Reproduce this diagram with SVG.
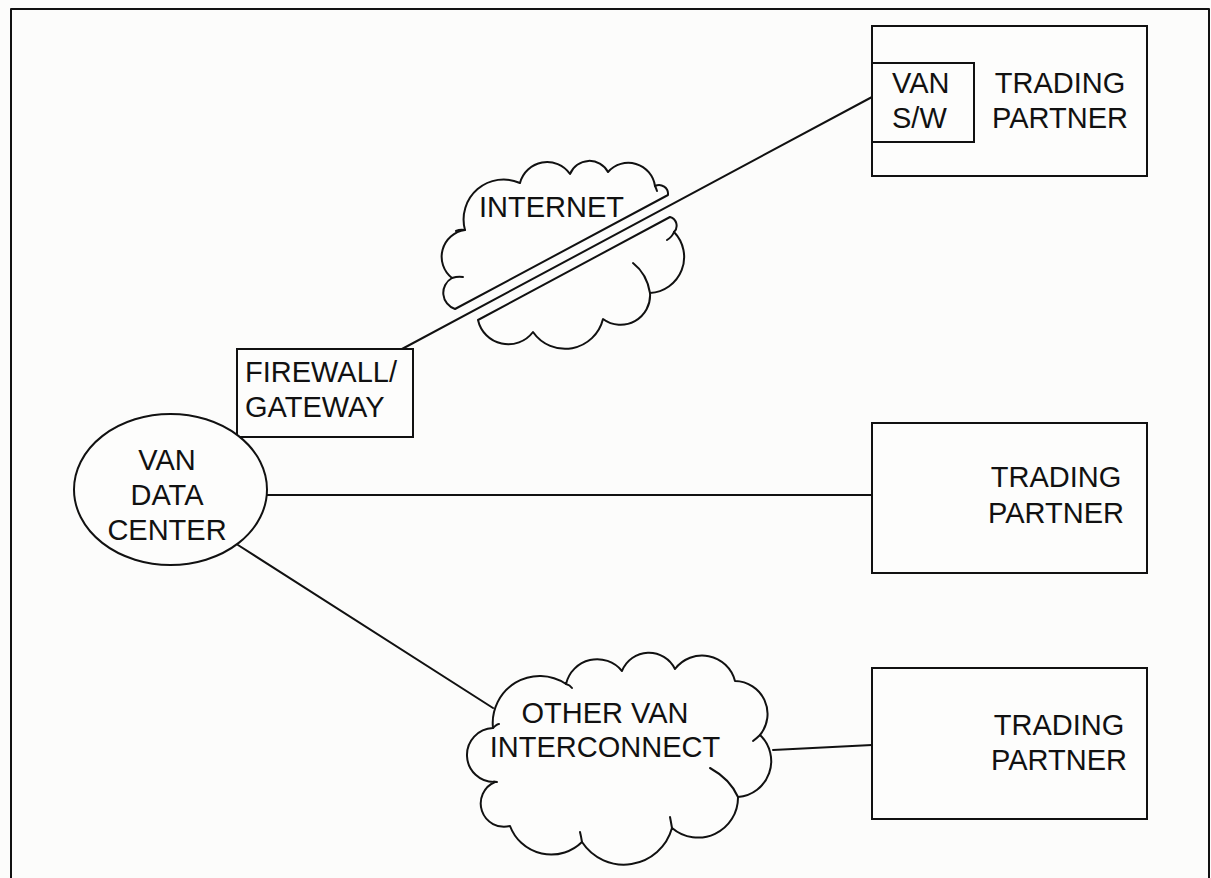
<svg xmlns="http://www.w3.org/2000/svg" width="1211" height="878" viewBox="0 0 1211 878">
  <style>
    .ln { fill: none; stroke: #111; stroke-width: 2; stroke-linecap: round; stroke-linejoin: round; }
    .box { fill: #fdfdfc; stroke: #111; stroke-width: 2; }
    .cloud { fill: #fdfdfc; stroke: #111; stroke-width: 2; stroke-linejoin: round; }
    .hook { fill: none; stroke: #111; stroke-width: 2; stroke-linecap: round; }
    .t { font-family: "Liberation Sans", Arial, Helvetica, sans-serif; font-size: 29px; fill: #111; }
    .c { text-anchor: middle; }
  </style>

  <!-- page background and frame -->
  <rect x="0" y="0" width="1211" height="878" fill="#fcfcfb"/>
  <path class="ln" d="M11,880 L11,9 L1209,9 L1209,880"/>

  <!-- connectors -->
  <g id="connectors">
    <line class="ln" x1="402" y1="349" x2="872" y2="97"/>
    <line class="ln" x1="267" y1="495" x2="872" y2="495"/>
    <line class="ln" x1="238" y1="545" x2="493" y2="708"/>
    <line class="ln" x1="773" y1="750" x2="872" y2="745"/>
  </g>

  <!-- internet cloud, split by the tunnel -->
  <g id="internet">
    <path class="cloud" d="M455,309 A17,17 0 0 1 452,278 A27,27 0 0 1 465,230 A40,40 0 0 1 520,183 A28,28 0 0 1 570,174 A21,21 0 0 1 608,172 A27,27 0 0 1 655,186 A9,9 0 0 1 668,195 Z"/>
    <path class="cloud" d="M670,217 A9,9 0 0 1 674,232 A36,36 0 0 1 650,293 A29.5,29.5 0 0 1 603,319 A39,39 0 0 1 533,332 A31,31 0 0 1 478,320 Z"/>
    <path class="hook" d="M452,278 Q458,276 463,277"/>
    <path class="hook" d="M465,230 Q460,229 456,231"/>
    <path class="hook" d="M674,232 Q672,237 667,240"/>
    <path class="hook" d="M633,263 Q647,274 650,293"/>
    <path class="hook" d="M655,186 Q656,188 657,191"/>
    <text class="t" x="479" y="217">INTERNET</text>
  </g>

  <!-- other VAN interconnect cloud -->
  <g id="other-van">
    <path class="cloud" d="M493,728 A47,47 0 0 1 566,684 A32,32 0 0 1 622,671 A29,29 0 0 1 675,669 A34,34 0 0 1 735,681 A33,33 0 0 1 760,735 A36,36 0 0 1 738,797 A40,40 0 0 1 672,828 A50,50 0 0 1 582,842 A44,44 0 0 1 510,826 A23.3,23.3 0 0 1 495,782 A27,27 0 0 1 493,728 Z"/>
    <path class="hook" d="M566,684 Q570,685 572,688"/>
    <path class="hook" d="M760,735 Q757,738 753,741"/>
    <path class="hook" d="M710,768 Q730,779 738,797"/>
    <path class="hook" d="M672,828 Q671,822 670,817"/>
    <path class="hook" d="M582,842 Q581,836 580,832"/>
    <path class="hook" d="M495,782 Q492,781 497,782"/>
    <path class="hook" d="M493,728 Q497,724 499,724"/>
    <text class="t c" x="605" y="723">OTHER VAN</text>
    <text class="t c" x="605" y="757">INTERCONNECT</text>
  </g>

  <!-- firewall -->
  <g id="firewall">
    <rect class="box" x="237" y="349" width="176" height="88"/>
    <text class="t" x="245" y="382">FIREWALL/</text>
    <text class="t" x="245" y="417">GATEWAY</text>
  </g>

  <!-- VAN data center -->
  <g id="van-data-center">
    <ellipse class="box" cx="170.5" cy="489.5" rx="96.5" ry="75.5"/>
    <text class="t c" x="167" y="470">VAN</text>
    <text class="t c" x="167" y="505">DATA</text>
    <text class="t c" x="167" y="540">CENTER</text>
  </g>

  <!-- trading partners -->
  <g id="partner-1">
    <rect class="box" x="872" y="26" width="275" height="150"/>
    <rect class="box" x="872" y="63" width="102" height="79"/>
    <text class="t" x="892" y="93">VAN</text>
    <text class="t" x="892" y="128">S/W</text>
    <text class="t c" x="1060" y="93">TRADING</text>
    <text class="t c" x="1060" y="128">PARTNER</text>
  </g>
  <g id="partner-2">
    <rect class="box" x="872" y="423" width="275" height="150"/>
    <text class="t c" x="1056" y="487">TRADING</text>
    <text class="t c" x="1056" y="523">PARTNER</text>
  </g>
  <g id="partner-3">
    <rect class="box" x="872" y="668" width="275" height="151"/>
    <text class="t c" x="1059" y="735">TRADING</text>
    <text class="t c" x="1059" y="770">PARTNER</text>
  </g>
</svg>
